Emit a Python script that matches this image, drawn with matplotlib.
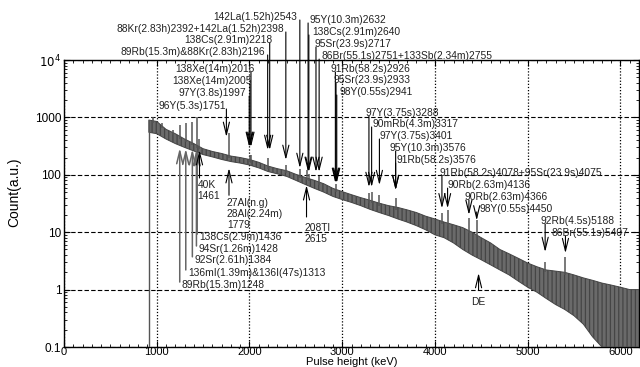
import numpy as np
import matplotlib
matplotlib.use("Agg")
import matplotlib.pyplot as plt
from matplotlib.ticker import FixedLocator, FixedFormatter, MultipleLocator, LogLocator, NullFormatter

plt.rcParams['font.family'] = ['Liberation Sans', 'DejaVu Sans']
plt.rcParams['hatch.linewidth'] = 0.9

# Continuum of the pulse-height spectrum: lower / upper envelope of the noisy trace
env_kev = [915, 1000, 1100, 1200, 1300, 1400, 1500, 1600, 1700, 1800, 1900, 2000,
           2100, 2200, 2300, 2400, 2500, 2600, 2700, 2800, 2900, 3000, 3100, 3200,
           3300, 3400, 3500, 3600, 3700, 3800, 3900, 4000, 4100, 4200, 4300, 4400,
           4500, 4600, 4700, 4800, 4900, 5000, 5100, 5200, 5300, 5400, 5500, 5600,
           5700, 5800, 5900, 6000, 6100, 6200]
env_low = [550, 520, 420, 350, 300, 260, 225, 205, 185, 170, 160, 148,
           132, 114, 104, 94, 80, 68, 58, 50, 42, 37, 33, 29,
           25, 22, 19.5, 17, 15, 13, 11, 9, 8, 6.5, 5, 4,
           3.3, 2.7, 2.2, 1.8, 1.4, 1.1, 0.9, 0.7, 0.55, 0.45, 0.35, 0.25,
           0.15, 0.1, 0.1, 0.1, 0.1, 0.1]
env_high = [900, 850, 620, 520, 420, 350, 285, 255, 235, 212, 200, 185,
            165, 142, 128, 118, 102, 90, 80, 70, 58, 51, 45, 40,
            36, 32, 29, 27, 24.5, 22, 19, 17, 15, 13.5, 12, 10,
            8, 6.5, 5, 4.2, 3.5, 2.9, 2.5, 2.2, 2.1, 2.0, 1.8, 1.6,
            1.45, 1.3, 1.2, 1.1, 1.0, 1.0]

# Photopeaks standing above the continuum (energy in keV, peak counts)
peak_kev = [960, 1056, 1175, 1248, 1313, 1384, 1436, 1461, 1779, 2005, 2016,
            2196, 2398, 2543, 2615, 2640, 2751, 2930, 3288, 3317, 3401, 3576,
            4078, 4136, 4366, 4450, 5188, 5407]
peak_cnt = [1000, 800, 600, 740, 800, 830, 1000, 420, 530, 220, 220,
            195, 150, 125, 120, 105, 95, 68, 48, 50, 44, 39,
            22, 24, 18, 16, 3.0, 3.7]

# Identified lines: label, energy marked by the arrow, label height, arrow tip height,
# alignment of the text against the arrow line and horizontal nudge in pixels
top_labels = [
    ("142La(1.52h)2543", 2543, 56100, 131, 'right', -3),
    ("88Kr(2.83h)2392+142La(1.52h)2398", 2392, 34700, 181, 'right', -2),
    ("138Cs(2.91m)2218", 2218, 22300, 270, 'right', 3),
    ("89Rb(15.3m)&88Kr(2.83h)2196", 2196, 13800, 270, 'right', -3),
    ("138Xe(14m)2016", 2016, 6970, 305, 'right', 4),
    ("138Xe(14m)2005", 2005, 4300, 305, 'right', 2),
    ("97Y(3.8s)1997", 1997, 2660, 305, 'right', -3),
    ("96Y(5.3s)1751", 1751, 1580, 456, 'right', 0),
    ("95Y(10.3m)2632", 2632, 49800, 112, 'left', 1),
    ("138Cs(2.91m)2640", 2640, 30800, 112, 'left', 3),
    ("95Sr(23.9s)2717", 2717, 19000, 112, 'left', -1),
    ("86Br(55.1s)2751+133Sb(2.34m)2755", 2751, 11700, 112, 'left', 2),
    ("91Rb(58.2s)2926", 2926, 6970, 72, 'left', -5),
    ("95Sr(23.9s)2933", 2933, 4490, 72, 'left', -3),
    ("98Y(0.55s)2941", 2941, 2770, 72, 'left', 3),
    ("97Y(3.75s)3288", 3288, 1190, 61, 'left', -3),
    ("90mRb(4.3m)3317", 3317, 768, 61, 'left', 1),
    ("97Y(3.75s)3401", 3401, 474, 66, 'left', 0),
    ("95Y(10.3m)3576", 3576, 293, 54, 'left', -6),
    ("91Rb(58.2s)3576", 3576, 181, 54, 'left', 1),
    ("91Rb(58.2s)4078+95Sr(23.9s)4075", 4075, 107, 26, 'left', -2),
    ("90Rb(2.63m)4136", 4136, 66, 26, 'left', 0),
    ("90Rb(2.63m)4366", 4366, 41, 20, 'left', -4),
    ("98Y(0.55s)4450", 4450, 25.4, 16, 'left', 3),
    ("92Rb(4.5s)5188", 5188, 15.7, 4.5, 'left', -5),
    ("86Br(55.1s)5407", 5407, 9.7, 4.3, 'left', -14),
]

bottom_labels = [
    ("138Cs(2.9m)1436", 1436, 8.2, 270),
    ("94Sr(1.26m)1428", 1428, 5.1, 275),
    ("92Sr(2.61h)1384", 1384, 3.3, 280),
    ("136mI(1.39m)&136I(47s)1313", 1313, 1.95, 285),
    ("89Rb(15.3m)1248", 1248, 1.2, 293),
]

# Short upward arrows: label, energy, arrow tip, arrow tail, text height
up_labels = [
    ("40K\n1461", 1461, 270, 88, 82),
    ("27Al(n.g)\n28Al(2.24m)\n1779", 1779, 131, 44, 40),
    ("208Tl\n2615", 2615, 66, 18.4, 14.5),
    ("DE", 4470, 1.95, 0.98, 0.62),
]

x_ticks = [0, 1000, 2000, 3000, 4000, 5000, 6000]
y_ticks = [0.1, 1, 10, 100, 1000, 1e4]
y_tick_labels = ["0.1", "1", "10", "100", "1000", r"$10^4$"]

fig = plt.figure(figsize=(6.4, 3.67), dpi=100)
ax = fig.add_axes([64 / 640, 20 / 367, 575 / 640, 287 / 367])
ax.set_yscale('log')
ax.set_xlim(0, 6200)
ax.set_ylim(0.1, 1e4)

spec_col = '#555555'
ax.fill_between(env_kev, env_low, env_high, facecolor='#6a6a6a', edgecolor='#454545',
                hatch='||||', lw=0.7, zorder=3)
ax.vlines(env_kev[0], 0.1, env_high[0], color=spec_col, lw=1.0, zorder=3)
base = np.interp(peak_kev, env_kev, env_high)
ax.vlines(peak_kev, base * 0.9, peak_cnt, color=spec_col, lw=1.1, zorder=3)

txt_kw = dict(fontsize=7.4, color='#222222', va='center', annotation_clip=False, zorder=5)
head = '->,head_length=0.9,head_width=0.22'
drop = 10 ** (-3 / 57.4)

for text, e, ytxt, tip, ha, dx in top_labels:
    ax.annotate('', xy=(e, tip), xytext=(e, ytxt * drop),
                arrowprops=dict(arrowstyle=head, lw=0.8, color='k',
                                shrinkA=0, shrinkB=0), annotation_clip=False, zorder=4)
    ax.annotate(text, xy=(e, ytxt), xytext=(dx, 0), textcoords='offset pixels',
                ha=ha, **txt_kw)

for text, e, ytxt, tip in bottom_labels:
    ax.annotate('', xy=(e, tip), xytext=(e, ytxt / drop),
                arrowprops=dict(arrowstyle=head, lw=1.1, color='#666666',
                                shrinkA=0, shrinkB=0), zorder=4)
    ax.annotate(text, xy=(e, ytxt), xytext=(2, 0), textcoords='offset pixels',
                ha='left', **txt_kw)

for text, e, tip, tail, ytxt in up_labels:
    ax.annotate('', xy=(e, tip), xytext=(e, tail),
                arrowprops=dict(arrowstyle=head, lw=0.8, color='k',
                                shrinkA=0, shrinkB=0), zorder=4)
    centred = text == "DE"
    ax.annotate(text, xy=(e, ytxt), xytext=(0 if centred else -2, 0),
                textcoords='offset pixels', ha='center' if centred else 'left',
                fontsize=7.4, color='#222222', va='top' if not centred else 'center',
                linespacing=1.15, zorder=5)

ax.xaxis.set_major_locator(FixedLocator(x_ticks))
ax.xaxis.set_minor_locator(MultipleLocator(100))
ax.yaxis.set_major_locator(FixedLocator(y_ticks))
ax.yaxis.set_major_formatter(FixedFormatter(y_tick_labels))
ax.yaxis.set_minor_locator(LogLocator(base=10, subs=np.arange(2, 10)))
ax.yaxis.set_minor_formatter(NullFormatter())
ax.tick_params(which='both', direction='in', top=True, right=True, labelsize=8.5,
               colors='k', pad=2)
ax.tick_params(axis='x', which='major', pad=0, labelsize=8)
ax.tick_params(which='major', length=4, width=0.8)
ax.tick_params(which='minor', length=2, width=0.6)

ax.grid(True, which='major', axis='y', ls=(0, (4, 2)), color='k', lw=0.8)
ax.grid(True, which='major', axis='x', ls=(0, (1, 1.5)), color='k', lw=0.9)
for s in ax.spines.values():
    s.set_linewidth(1.0)

fig.text((64 + 639) / 2 / 640, 0, "Pulse height (keV)", fontsize=8,
         ha='center', va='bottom')
ax.set_ylabel("Count(a.u.)", fontsize=10)
ax.yaxis.set_label_coords(-0.075, 0.54)

fig.savefig("out.png", dpi=100)
